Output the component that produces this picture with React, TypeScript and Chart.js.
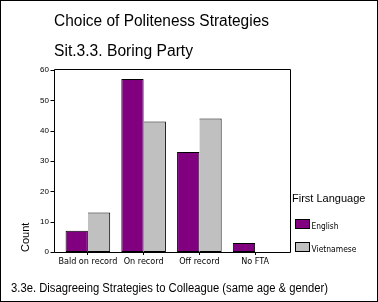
import { useEffect, useRef } from 'react';
import { Chart, registerables } from 'chart.js';

Chart.register(...registerables);

const categories = ['Bald on record', 'On record', 'Off record', 'No FTA'];
const englishCounts = [7, 57, 33, 3];
const vietnameseCounts = [13, 43, 44, 0];
const seriesNames = ['English', 'Vietnamese'];
const seriesColors = ['#800080', '#c0c0c0'];
const yTicks = [0, 10, 20, 30, 40, 50, 60];
const titleText = 'Choice of Politeness Strategies';
const subtitleText = 'Sit.3.3. Boring Party';
const footerText = '3.3e. Disagreeing Strategies to Colleague (same age & gender)';
const legendTitle = 'First Language';
const yAxisTitle = 'Count';

const SANS = '"Liberation Sans", Arial, sans-serif';
const NARROW = '"DejaVu Sans Condensed", "Liberation Sans", sans-serif';

const decorPlugin = {
  id: 'decor',
  afterDraw(chart: any) {
    const { ctx, chartArea } = chart;
    const yScale = chart.scales.y;
    ctx.save();
    ctx.strokeStyle = '#000';
    ctx.lineWidth = 1;
    // outer border
    ctx.strokeRect(0.5, 0.5, chart.width - 1, chart.height - 1);
    // plot frame
    const fl = Math.round(chartArea.left - 6) + 0.5;
    const fr = Math.round(chartArea.right + 6.5) + 0.5;
    const ft = Math.round(chartArea.top) - 0.5;
    const fb = Math.round(chartArea.bottom) + 0.5;
    ctx.beginPath();
    ctx.moveTo(fl, ft);
    ctx.lineTo(fr, ft);
    ctx.lineTo(fr, fb);
    ctx.lineTo(fl, fb);
    ctx.closePath();
    ctx.stroke();
    // y tick marks
    ctx.beginPath();
    yScale.ticks.forEach((t: any) => {
      const py = Math.round(yScale.getPixelForValue(t.value)) + 0.5;
      ctx.moveTo(fl - 4, py);
      ctx.lineTo(fl, py);
    });
    ctx.stroke();

    ctx.fillStyle = '#000';
    ctx.textBaseline = 'alphabetic';
    ctx.textAlign = 'left';
    ctx.font = `16px ${SANS}`;
    ctx.fillText(titleText, 54, 26, 215);
    ctx.fillText(subtitleText, 54, 55.5, 139);
    ctx.font = `12px ${SANS}`;
    ctx.fillText(footerText, 11, 292, 317);

    // legend
    ctx.font = `11px ${SANS}`;
    ctx.fillText(legendTitle, 292, 201.5, 74);
    const rows = [219.5, 242.5];
    const labelBase = [228.5, 251.5];
    chart.data.datasets.forEach((ds: any, i: number) => {
      ctx.fillStyle = ds.backgroundColor;
      ctx.fillRect(295.5, rows[i], 14, 9);
      ctx.strokeRect(295.5, rows[i], 14, 9);
      ctx.fillStyle = '#000';
      ctx.font = `9px ${NARROW}`;
      ctx.fillText(ds.label, 311.5, labelBase[i], i === 0 ? 27 : 45);
    });
    ctx.restore();
  },
};

export default function App() {
  const canvasRef = useRef<HTMLCanvasElement | null>(null);

  useEffect(() => {
    if (!canvasRef.current) return;
    const chart = new Chart(canvasRef.current, {
      type: 'bar',
      data: {
        labels: categories,
        datasets: [
          {
            label: seriesNames[0],
            data: englishCounts,
            backgroundColor: seriesColors[0],
            borderColor: '#000',
            borderWidth: 1,
            borderSkipped: false,
            barPercentage: 1,
            categoryPercentage: 0.8,
          },
          {
            label: seriesNames[1],
            data: vietnameseCounts,
            backgroundColor: seriesColors[1],
            borderColor: '#000',
            borderWidth: { top: 1, right: 1, bottom: 1, left: 0 },
            borderSkipped: false,
            barPercentage: 1,
            categoryPercentage: 0.8,
          },
        ],
      },
      options: {
        animation: false,
        responsive: false,
        devicePixelRatio: 1,
        layout: { padding: { left: 14, right: 95, top: 70, bottom: 30 } },
        plugins: {
          legend: { display: false },
          title: { display: false },
          tooltip: { enabled: false },
        },
        scales: {
          x: {
            type: 'category',
            offset: true,
            grid: {
              display: true,
              offset: false,
              drawOnChartArea: false,
              drawTicks: true,
              tickLength: 3,
              color: '#000',
              lineWidth: 1,
            },
            border: { display: false },
            ticks: {
              color: '#000',
              font: { family: NARROW, size: 9 },
              padding: 1,
              maxRotation: 0,
              autoSkip: false,
            },
            afterFit: (s: any) => {
              s.height = 20;
            },
          },
          y: {
            type: 'linear',
            min: yTicks[0],
            max: yTicks[yTicks.length - 1],
            afterBuildTicks: (s: any) => {
              s.ticks = yTicks.map((v) => ({ value: v }));
            },
            ticks: {
              color: '#000',
              font: { family: SANS, size: 8 },
              padding: 11,
            },
            grid: { display: false, drawTicks: false },
            border: { display: false },
            title: {
              display: true,
              text: yAxisTitle,
              align: 'start',
              color: '#000',
              font: { family: SANS, size: 11, lineHeight: 1.2 },
              padding: { top: 5.4, bottom: 0 },
            },
            afterFit: (s: any) => {
              s.width = 46;
            },
          },
        },
      },
      plugins: [decorPlugin],
    });
    return () => chart.destroy();
  }, []);

  return (
    <div style={{ position: 'absolute', left: 0, top: 0, width: 378, height: 302, background: '#fff' }}>
      <canvas ref={canvasRef} width={378} height={302} style={{ display: 'block' }} />
    </div>
  );
}
